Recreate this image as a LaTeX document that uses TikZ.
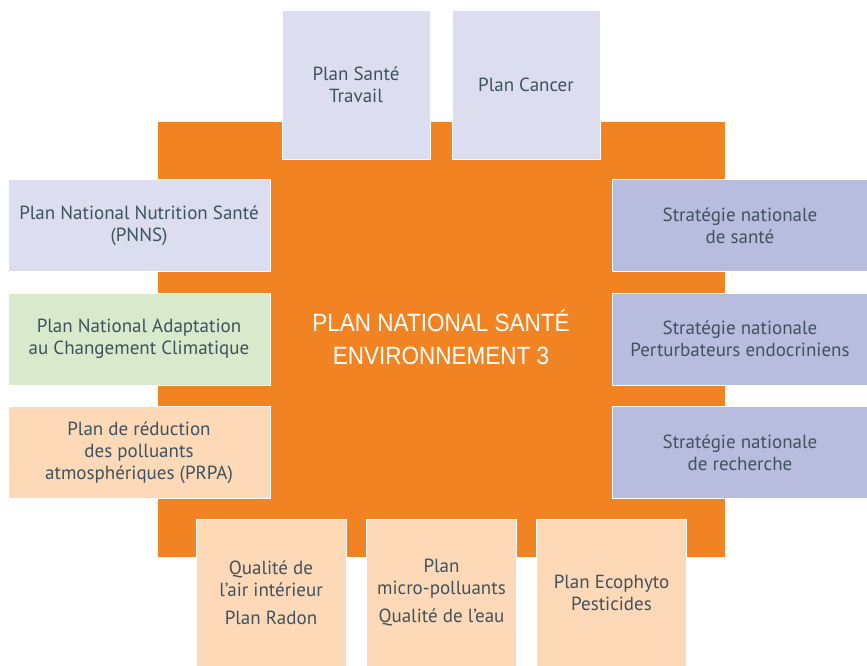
\documentclass[tikz,border=0pt]{standalone}
\usepackage{fontspec}
\setmainfont{PT Sans}
\newfontfamily\titlefont{Liberation Sans}[FakeStretch=0.9]
\definecolor{orangec}{HTML}{F28322}
\definecolor{lav}{HTML}{DCDDEF}
\definecolor{blu}{HTML}{B8BCDF}
\definecolor{grn}{HTML}{D9EACC}
\definecolor{pch}{HTML}{FDD9B8}
\definecolor{txt}{HTML}{3F525E}
\begin{document}
\begin{tikzpicture}[x=1pt,y=-1pt,
  box/.style={draw=white, line width=0.8pt, inner sep=0pt, align=center, text=txt,
    font=\fontsize{19}{22}\selectfont},
  topbox/.style={box, minimum width=148pt, minimum height=149pt},
  sidebox/.style={box, minimum height=92pt},
  botbox/.style={box, fill=pch, minimum width=150pt, minimum height=147pt}]
\useasboundingbox (0,0) rectangle (867,666);
\fill[white] (0,0) rectangle (867,666);
\node[fill=orangec, minimum width=567pt, minimum height=435pt, inner sep=0pt] (core) at (441.5,339.5) {};
\node[text=white, align=center, font=\titlefont\fontsize{25}{33}\selectfont] (title) at (441,337) {PLAN NATIONAL SANTÉ\\ENVIRONNEMENT 3};
% top
\node[topbox, fill=lav] (pst) at (356,84.5) {Plan Santé\\Travail};
\node[topbox, fill=lav] (pc) at (526,84.5) {Plan Cancer};
% left
\node[sidebox, fill=lav, minimum width=262pt] (pnns) at (139,225.5) {Plan National Nutrition Santé\\(PNNS)};
\node[sidebox, fill=grn, minimum width=262pt] (pnacc) at (139,339) {Plan National Adaptation\\au Changement Climatique};
\node[sidebox, fill=pch, minimum width=262pt] (prpa) at (139,452.5) {Plan de réduction\\des polluants\\atmosphériques (PRPA)};
% right
\node[sidebox, fill=blu, minimum width=256pt] (sns) at (740,225.5) {Stratégie nationale\\de santé};
\node[sidebox, fill=blu, minimum width=256pt] (snpe) at (740,339) {Stratégie nationale\\Perturbateurs endocriniens};
\node[sidebox, fill=blu, minimum width=256pt] (snr) at (740,452.5) {Stratégie nationale\\de recherche};
% bottom
\node[botbox] (qai) at (271,592.5) {Qualité de\\l’air intérieur\\[6pt]Plan Radon};
\node[botbox] (pmp) at (441.5,592.5) {Plan\\micro-polluants\\[6pt]Qualité de l’eau};
\node[botbox] (eco) at (611.5,592.5) {Plan Ecophyto\\Pesticides};
\end{tikzpicture}
\end{document}
